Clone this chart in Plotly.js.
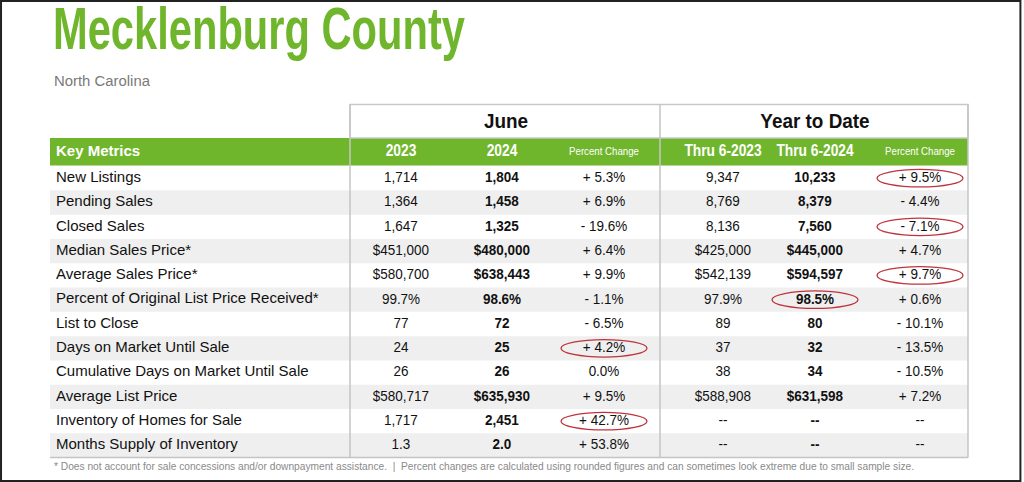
<!DOCTYPE html>
<html>
<head>
<meta charset="utf-8">
<script src="https://cdn.plot.ly/plotly-3.0.1.min.js"></script>
<style>html,body{margin:0;padding:0;background:#fff}</style>
</head>
<body>
<div id="chart" style="width:1024px;height:482px"></div>
<script>
// table data
const metrics = [
    'New Listings', 'Pending Sales', 'Closed Sales', 'Median Sales Price*', 'Average Sales Price*',
    'Percent of Original List Price Received*', 'List to Close', 'Days on Market Until Sale',
    'Cumulative Days on Market Until Sale', 'Average List Price', 'Inventory of Homes for Sale',
    'Months Supply of Inventory'
];
const june2023 = ['1,714', '1,364', '1,647', '$451,000', '$580,700', '99.7%', '77', '24', '26', '$580,717', '1,717', '1.3'];
const june2024 = ['1,804', '1,458', '1,325', '$480,000', '$638,443', '98.6%', '72', '25', '26', '$635,930', '2,451', '2.0'];
const junePct  = ['+ 5.3%', '+ 6.9%', '- 19.6%', '+ 6.4%', '+ 9.9%', '- 1.1%', '- 6.5%', '+ 4.2%', '0.0%', '+ 9.5%', '+ 42.7%', '+ 53.8%'];
const ytd2023  = ['9,347', '8,769', '8,136', '$425,000', '$542,139', '97.9%', '89', '37', '38', '$588,908', '--', '--'];
const ytd2024  = ['10,233', '8,379', '7,560', '$445,000', '$594,597', '98.5%', '80', '32', '34', '$631,598', '--', '--'];
const ytdPct   = ['+ 9.5%', '- 4.4%', '- 7.1%', '+ 4.7%', '+ 9.7%', '+ 0.6%', '- 10.1%', '- 13.5%', '- 10.5%', '+ 7.2%', '--', '--'];
const colHeaders = ['2023', '2024', 'Percent Change', 'Thru 6-2023', 'Thru 6-2024', 'Percent Change'];
const groupHeaders = ['June', 'Year to Date'];
// cells circled in red (column index, row index)
const circledCol = [5, 5, 5, 4, 2, 2];
const circledRow = [0, 2, 4, 5, 7, 10];

const GREEN = '#70b62c';
const SANS = '"Liberation Sans", Arial, Helvetica, sans-serif';

// page geometry (pixels); rows sit on the y axis in row units
const W = 1024, H = 482;
const rowH = 24.3, row0 = 178.2;
const toRow = px => (px - row0) / rowH;
const colX = [401, 502, 604, 723, 815, 920];
const groupX = [506, 815];
const tableL = 50, tableR = 968, divX = [350, 660];
const rows = metrics.map((m, i) => i);

const columns = [june2023, june2024, junePct, ytd2023, ytd2024, ytdPct];
const boldCols = [1, 4];

// no narrow face is installed, so narrow texts get squeezed after drawing
let traces = [], squeeze = [];
function addText(tr, sq) {
    traces.push(Object.assign({type: 'scatter', mode: 'text', hoverinfo: 'skip', cliponaxis: false}, tr));
    squeeze.push(sq);
}

// page title and state
addText({x: [53], y: [toRow(34)], text: ['Mecklenburg County'], textposition: 'middle right',
    textfont: {family: SANS, size: 60, color: GREEN, weight: 'bold'}}, {len: 412});
addText({x: [54], y: [toRow(82)], text: ['North Carolina'], textposition: 'middle right',
    textfont: {family: SANS, size: 15.5, color: '#7a7a7a'}}, {k: 0.96});

// metric labels
addText({x: rows.map(() => tableL + 6), y: rows, text: metrics, textposition: 'middle right',
    textfont: {family: SANS, size: 15, color: '#111'}}, null);
// value columns
columns.forEach((col, c) => {
    addText({x: rows.map(() => colX[c]), y: rows, text: col, textposition: 'middle center',
        textfont: {family: SANS, size: 15.5, color: '#111', weight: boldCols.includes(c) ? 'bold' : 'normal'}}, {k: 0.87});
});
// green header row
const yHead = toRow(152);
const bigHead = [0, 1, 3, 4];
addText({x: bigHead.map(c => colX[c]), y: bigHead.map(() => yHead), text: bigHead.map(c => colHeaders[c]),
    textposition: 'middle center', textfont: {family: SANS, size: 16, color: '#fff', weight: 'bold'}}, {k: 0.86});
addText({x: [colX[2], colX[5]], y: [yHead, yHead], text: [colHeaders[2], colHeaders[5]],
    textposition: 'middle center', textfont: {family: SANS, size: 11.5, color: '#fff'}}, {k: 0.84});
addText({x: [tableL + 6], y: [yHead], text: ['Key Metrics'], textposition: 'middle right',
    textfont: {family: SANS, size: 15, color: '#fff', weight: 'bold'}}, null);
// June / Year to Date
addText({x: groupX, y: [toRow(122.5), toRow(122.5)], text: groupHeaders, textposition: 'middle center',
    textfont: {family: SANS, size: 21, color: '#111', weight: 'bold'}}, {k: 0.9});
// footnote
addText({x: [54], y: [toRow(467)], text: ['* Does not account for sale concessions and/or downpayment assistance.  |  Percent changes are calculated using rounded figures and can sometimes look extreme due to small sample size.'],
    textposition: 'middle right', textfont: {family: SANS, size: 10.2, color: '#8a8a8a'}}, null);

let shapes = [];
// zebra rows
rows.filter(i => i % 2 === 1).forEach(i => {
    shapes.push({type: 'rect', layer: 'below', x0: tableL, x1: tableR, y0: i - 0.5, y1: i + 0.5,
        fillcolor: '#efefef', line: {width: 0}});
});
// green header bar
shapes.push({type: 'rect', layer: 'below', x0: tableL, x1: tableR, y0: toRow(138), y1: toRow(165.5),
    fillcolor: GREEN, line: {width: 0}});
// group header box
shapes.push({type: 'rect', layer: 'below', x0: divX[0], x1: tableR, y0: toRow(104.5), y1: toRow(138),
    fillcolor: '#fff', line: {color: '#c8c8c8', width: 1.5}});
// vertical dividers + right edge
divX.concat([tableR]).forEach(x => {
    shapes.push({type: 'line', x0: x, x1: x, y0: toRow(104.5), y1: toRow(457.5), line: {color: '#c4c4c4', width: 1.5}});
});
// bottom rule
shapes.push({type: 'line', x0: tableL, x1: tableR, y0: toRow(457.5), y1: toRow(457.5), line: {color: '#c4c4c4', width: 1.5}});
// red circles
circledCol.forEach((c, k) => {
    shapes.push({type: 'circle', x0: colX[c] - 43, x1: colX[c] + 43, y0: circledRow[k] - 0.36, y1: circledRow[k] + 0.36,
        line: {color: '#c0333a', width: 1.3}});
});
// outer frame
shapes.push({type: 'rect', xref: 'paper', yref: 'paper', x0: 0.001, x1: 0.9965, y0: 0.002, y1: 0.998,
    line: {color: '#222', width: 2}});

const layout = {
    width: W, height: H, margin: {l: 0, r: 0, t: 0, b: 0},
    paper_bgcolor: '#fff', plot_bgcolor: '#fff', showlegend: false,
    xaxis: {range: [0, W], visible: false, fixedrange: true},
    yaxis: {range: [toRow(H), toRow(0)], visible: false, fixedrange: true},
    shapes: shapes
};

Plotly.newPlot('chart', traces, layout, {staticPlot: true, displayModeBar: false}).then(gd => {
    const groups = gd.querySelectorAll('.scatterlayer .trace');
    groups.forEach((g, i) => {
        const sq = squeeze[i];
        if (!sq) return;
        g.querySelectorAll('.textpoint text').forEach(t => {
            const len = t.getComputedTextLength();
            t.setAttribute('textLength', sq.len || len * sq.k);
            t.setAttribute('lengthAdjust', 'spacingAndGlyphs');
        });
    });
});
</script>
</body>
</html>
